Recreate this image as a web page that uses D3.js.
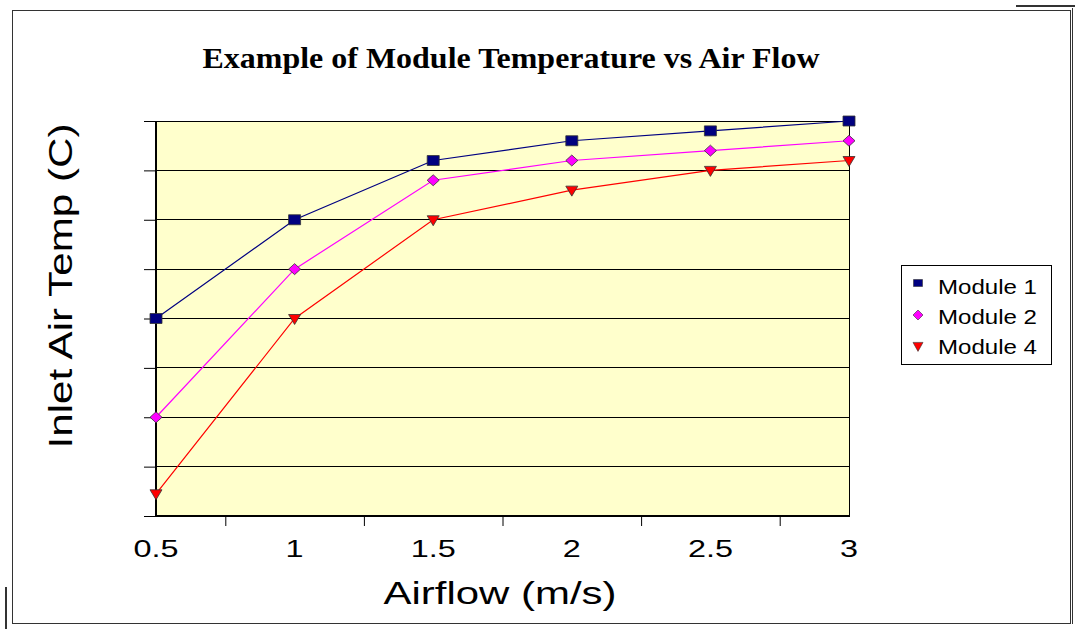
<!DOCTYPE html>
<html><head><meta charset="utf-8">
<script src="https://cdn.jsdelivr.net/npm/d3@7"></script>
<style>body{margin:0;background:#fff;}svg{display:block;}</style>
</head><body>
<svg id="c" width="1075" height="629"></svg>
<script>
const airflow = [0.5, 1, 1.5, 2, 2.5, 3];
const module1 = [4.0, 6.0, 7.2, 7.6, 7.8, 8.0];
const module2 = [2.0, 5.0, 6.8, 7.2, 7.4, 7.6];
const module4 = [0.45, 4.0, 6.0, 6.6, 7.0, 7.2];
const seriesNames = ["Module 1", "Module 2", "Module 4"];
const xTickLabels = [0.5, 1, 1.5, 2, 2.5, 3];
const yGrid = [0, 1, 2, 3, 4, 5, 6, 7, 8];

const svg = d3.select("#c");
const L = 156, R = 849, T = 121, B = 516;
const x = d3.scaleLinear().domain([0.5, 3]).range([L, R]);
const y = d3.scaleLinear().domain([0, 8]).range([B, T]);
const SANS = "Liberation Sans, Arial, sans-serif";

// outer frame
svg.append("rect").attr("x", 12.5).attr("y", 10.5).attr("width", 1058).attr("height", 613)
  .attr("fill", "none").attr("stroke", "#333").attr("stroke-width", 1);
svg.append("line").attr("x1", 1072.5).attr("x2", 1072.5).attr("y1", 8).attr("y2", 624).attr("stroke", "#333");
svg.append("line").attr("x1", 1016).attr("x2", 1075).attr("y1", 6).attr("y2", 6).attr("stroke", "#333").attr("stroke-width", 2);
svg.append("line").attr("x1", 6).attr("x2", 6).attr("y1", 587).attr("y2", 629).attr("stroke", "#333").attr("stroke-width", 2);

// plot area
svg.append("rect").attr("x", L).attr("y", T).attr("width", R - L).attr("height", B - T).attr("fill", "#FFFFCC");

// y gridlines + outer ticks
const yAxis = d3.axisLeft(y).tickValues(yGrid).tickSize(12).tickFormat("");
const gy = svg.append("g").attr("transform", `translate(${L},0)`).call(yAxis);
gy.select(".domain").remove();
gy.selectAll(".tick line").attr("stroke", "#000");
svg.append("g").selectAll("line").data(yGrid).join("line")
  .attr("x1", L).attr("x2", R).attr("y1", d => y(d)).attr("y2", d => y(d))
  .attr("stroke", "#000").attr("stroke-width", 1).attr("shape-rendering", "crispEdges");

// right border of plot
svg.append("line").attr("x1", R).attr("x2", R).attr("y1", T).attr("y2", B).attr("stroke", "#000").attr("shape-rendering", "crispEdges");

// x axis ticks (minor between labels)
const xMinor = d3.range(0.75, 3, 0.5);
const xAxis = d3.axisBottom(x).tickValues(xMinor).tickSize(10).tickFormat("");
const gx = svg.append("g").attr("transform", `translate(0,${B})`).call(xAxis);
gx.select(".domain").remove();
gx.selectAll(".tick line").attr("stroke", "#000");
svg.append("g").selectAll("text").data(xTickLabels).join("text")
  .attr("transform", d => `translate(${x(d)},557) scale(1.35,1)`).attr("text-anchor", "middle")
  .attr("font-family", SANS).attr("font-size", 24).attr("fill", "#000")
  .text(d => d);

// axes lines
svg.append("line").attr("x1", L).attr("x2", L).attr("y1", T).attr("y2", B).attr("stroke", "#000").attr("stroke-width", 2);
svg.append("line").attr("x1", L).attr("x2", R + 1).attr("y1", B).attr("y2", B).attr("stroke", "#000").attr("stroke-width", 2);

// series
const series = [
  {name: seriesNames[0], vals: module1, color: "#000080", shape: "sq"},
  {name: seriesNames[1], vals: module2, color: "#FF00FF", shape: "dia"},
  {name: seriesNames[2], vals: module4, color: "#FF0000", shape: "tri"},
];
const line = d3.line().x((d, i) => x(airflow[i])).y(d => y(d));
function shapePath(shape, w, h) {
  if (shape === "sq") return `M${-w/2},${-h/2}h${w}v${h}h${-w}Z`;
  if (shape === "dia") return `M0,${-h/2}L${w/2},0L0,${h/2}L${-w/2},0Z`;
  return `M${-w/2},${-h*0.4}L${w/2},${-h*0.4}L0,${h*0.6}Z`;
}
series.forEach(s => {
  svg.append("path").datum(s.vals).attr("d", line).attr("fill", "none").attr("stroke", s.color).attr("stroke-width", 1.2);
});
series.forEach(s => {
  svg.append("g").selectAll("path").data(s.vals).join("path")
    .attr("transform", (d, i) => `translate(${x(airflow[i])},${y(d)})`)
    .attr("d", s.shape === "sq" ? shapePath("sq", 12, 10) : s.shape === "dia" ? shapePath("dia", 12, 11) : shapePath("tri", 12, 10))
    .attr("fill", s.color).attr("stroke", "#333").attr("stroke-width", 0.8);
});

// title
svg.append("text").attr("x", 511).attr("y", 68).attr("text-anchor", "middle")
  .attr("font-family", "Liberation Serif, Times New Roman, serif").attr("font-weight", "bold")
  .attr("font-size", 30).attr("textLength", 617).attr("lengthAdjust", "spacingAndGlyphs")
  .text("Example of Module Temperature vs Air Flow");

// axis titles
svg.append("text").attr("x", 500).attr("y", 604).attr("text-anchor", "middle")
  .attr("font-family", SANS).attr("font-size", 32).attr("textLength", 233).attr("lengthAdjust", "spacingAndGlyphs")
  .text("Airflow (m/s)");
svg.append("text").attr("transform", "translate(72,286) rotate(-90)").attr("text-anchor", "middle")
  .attr("font-family", SANS).attr("font-size", 33).attr("textLength", 325).attr("lengthAdjust", "spacingAndGlyphs")
  .text("Inlet Air Temp (C)");

// legend
const lg = svg.append("g");
lg.append("rect").attr("x", 901.5).attr("y", 265.5).attr("width", 150).attr("height", 99)
  .attr("fill", "#fff").attr("stroke", "#000");
const lyMark = [283, 315, 346];
const lyText = [294, 324, 354];
series.forEach((s, i) => {
  lg.append("path").attr("transform", `translate(918,${lyMark[i]})`)
    .attr("d", s.shape === "sq" ? shapePath("sq", 9, 7) : s.shape === "dia" ? shapePath("dia", 10, 10) : shapePath("tri", 10, 9))
    .attr("fill", s.color).attr("stroke", "#333").attr("stroke-width", 0.6);
  lg.append("text").attr("x", 938).attr("y", lyText[i]).attr("font-family", SANS)
    .attr("font-size", 19.5).attr("textLength", 99).attr("lengthAdjust", "spacingAndGlyphs").text(s.name);
});
</script>
</body></html>
